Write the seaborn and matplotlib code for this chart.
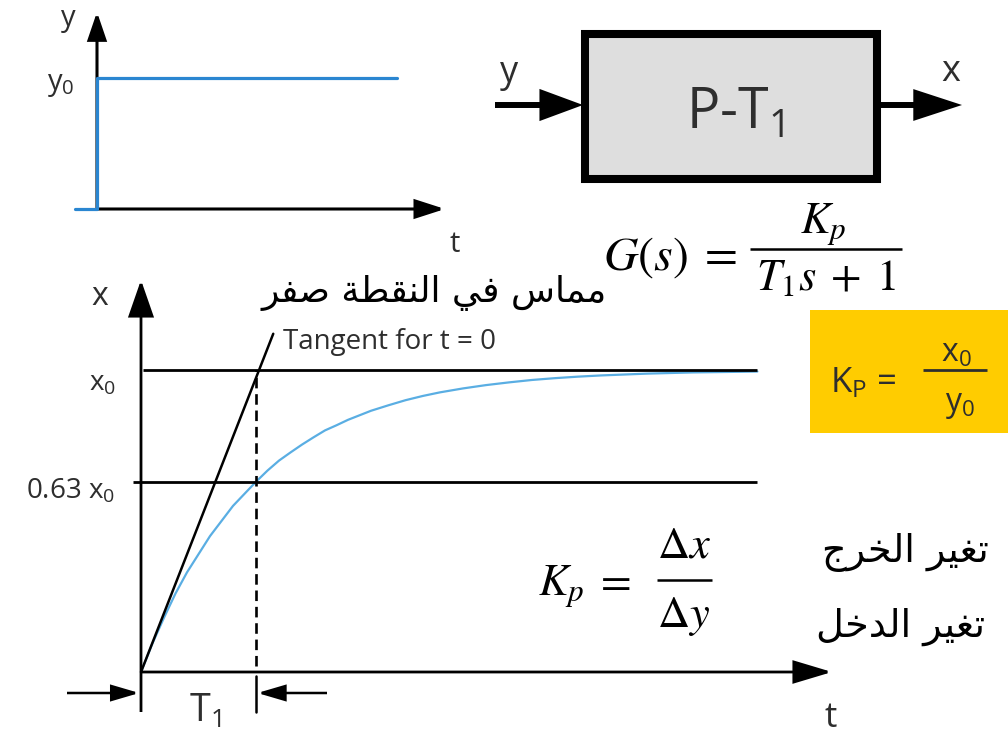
import matplotlib
matplotlib.use("Agg")
import matplotlib.pyplot as plt
import seaborn as sns
from matplotlib.patches import Rectangle

# ---------------- data ----------------
# input step y(t): time in arbitrary units, amplitude in units of y0
step_t = [-0.22, 0.0, 0.0, 3.0]
step_y = [0.0, 0.0, 1.0, 1.0]

# first-order (P-T1) step response: time in units of T1, output in units of x0
resp_t = [0.0, 0.1, 0.2, 0.3, 0.4, 0.5, 0.6, 0.7, 0.8, 0.9, 1.0, 1.1, 1.2, 1.3,
          1.4, 1.5, 1.6, 1.7, 1.8, 1.9, 2.0, 2.15, 2.3, 2.45, 2.6, 2.8, 3.0,
          3.2, 3.4, 3.6, 3.8, 4.0, 4.2, 4.4, 4.6, 4.8, 5.0, 5.2, 5.36]
resp_x = [0.0, 0.095, 0.18, 0.26, 0.33, 0.39, 0.45, 0.50, 0.55, 0.59, 0.63, 0.667,
          0.70, 0.727, 0.753, 0.777, 0.80, 0.817, 0.835, 0.85, 0.865, 0.883, 0.90,
          0.914, 0.926, 0.939, 0.95, 0.959, 0.967, 0.973, 0.978, 0.982, 0.985,
          0.988, 0.99, 0.992, 0.993, 0.994, 0.995]

# tangent at t = 0
tangent_t = [0.0, 1.15]
tangent_x = [0.0, 1.12]

# horizontal reference levels and their labels
ref_levels = [1.0, 0.63]
ref_labels = ["x$_0$", "0.63 x$_0$"]
ref_start = [0.02, -0.07]
ref_end = 5.36
T1 = 1.0

# Arabic captions (shaped presentation forms, visual order)
cap_tangent = "\uFEAE\uFED4\uFEBB \uFE94\uFEC4\uFED8\uFEE8\uFEDF\uFE8D \uFEF2\uFED3 \uFEB1\uFE8E\uFEE4\uFEE3"
cap_output = "\uFE9D\uFEAE\uFEA8\uFEDF\uFE8D \uFEAE\uFEF4\uFED0\uFE97"
cap_input = "\uFEDE\uFEA7\uFEAA\uFEDF\uFE8D \uFEAE\uFEF4\uFED0\uFE97"

# ---------------- style ----------------
sns.set_theme(style="white")
plt.rcParams["font.family"] = ["Open Sans", "DejaVu Sans"]
plt.rcParams["mathtext.fontset"] = "custom"
plt.rcParams["mathtext.rm"] = "Open Sans"
plt.rcParams["mathtext.it"] = "Open Sans:italic"
plt.rcParams["mathtext.bf"] = "Open Sans:bold"

W, H = 1008, 735
fig = plt.figure(figsize=(W / 100, H / 100), dpi=100)
fig.patch.set_facecolor("white")

TXT = "#2e2e2e"
BLUE_STEP = "#2a86d1"
BLUE_RESP = "#5aaee3"


def full_axes(xlim, ylim):
    ax = fig.add_axes([0, 0, 1, 1])
    ax.set_xlim(*xlim)
    ax.set_ylim(*ylim)
    ax.set_axis_off()
    ax.patch.set_alpha(0)
    return ax


def arrow(ax, start, tip, lw, hl, hw, color="black", z=5):
    ax.annotate("", xy=tip, xytext=start, xycoords="data", textcoords="data",
                arrowprops=dict(arrowstyle=f"-|>,head_length={hl},head_width={hw}",
                                lw=lw, color=color, shrinkA=0, shrinkB=0,
                                mutation_scale=1, joinstyle="miter", capstyle="butt"),
                zorder=z)


# step chart axes: origin at px (97, 209), 100 px per time unit, 131 px per y0
ax_s = full_axes(((0 - 97) / 100, (W - 97) / 100), (-(H - 209) / 131, 209 / 131))
# response chart axes: origin at px (141, 672), 115 px per T1, 302 px per x0
ax_r = full_axes(((0 - 141) / 115, (W - 141) / 115), (-(H - 672) / 302, 672 / 302))
# annotation layer in pixel units
ax_d = full_axes((0, W), (H, 0))

# ---------------- input step ----------------
arrow(ax_s, (0, 0), (0, (209 - 12) / 131), lw=2.2, hl=17, hw=5.8, z=3)
arrow(ax_s, (0, 0), ((445 - 97) / 100, 0), lw=2.2, hl=18, hw=5.8, z=3)
sns.lineplot(x=step_t, y=step_y, sort=False, estimator=None, ax=ax_s,
             color=BLUE_STEP, lw=2.3, zorder=4)
ax_s.set_axis_off()

# ---------------- response ----------------
# reference levels
for lvl, x0 in zip(ref_levels, ref_start):
    ax_r.plot([x0, ref_end], [lvl, lvl], color="black", lw=2.0, zorder=4,
              solid_capstyle="butt")
sns.lineplot(x=resp_t, y=resp_x, sort=False, estimator=None, ax=ax_r,
             color=BLUE_RESP, lw=1.6, zorder=3)
sns.lineplot(x=tangent_t, y=tangent_x, sort=False, estimator=None, ax=ax_r,
             color="black", lw=1.8, zorder=4)
ax_r.plot([T1, T1], [0.02, ref_levels[0]], color="black", lw=1.9,
          dashes=(4, 2.2), zorder=4)
ax_r.set_axis_off()

# axes with arrows
y_low = (672 - 712) / 302
arrow(ax_r, (0, y_low), (0, (672 - 280) / 302), lw=2.0, hl=23, hw=8)
arrow(ax_r, (0, 0), ((832 - 141) / 115, 0), lw=2.0, hl=24, hw=7.2)
# T1 dimension marks
ax_r.plot([T1, T1], [-0.013, y_low], color="black", lw=1.8, zorder=4)
y_dim = (672 - 693) / 302
arrow(ax_r, ((67 - 141) / 115, y_dim), (-0.015, y_dim), lw=1.8, hl=17, hw=5)
arrow(ax_r, ((327 - 141) / 115, y_dim), (T1 + 0.012, y_dim), lw=1.8, hl=17, hw=5)

# ---------------- labels ----------------
ax_d.text(68, 26, "y", fontsize=21, color=TXT, ha="center", va="baseline")
ax_d.text(47, 90, "y$_0$", fontsize=21, color=TXT, ha="left", va="baseline")
ax_d.text(455, 252, "t", fontsize=21, color=TXT, ha="center", va="baseline")

ax_d.text(100, 305, "x", fontsize=23, color=TXT, ha="center", va="baseline")
ax_d.text(116, 390, ref_labels[0], fontsize=20, color=TXT, ha="right", va="baseline")
ax_d.text(115, 498, ref_labels[1], fontsize=20, color=TXT, ha="right", va="baseline")
ax_d.text(283, 349, "Tangent for t = 0", fontsize=20, color=TXT, ha="left", va="baseline")
ax_d.text(189, 722, "T$_1$", fontsize=27, color=TXT, ha="left", va="baseline")
ax_d.text(831, 727, "t", fontsize=25, color=TXT, ha="center", va="baseline")

# ---------------- block diagram ----------------
ax_d.add_patch(Rectangle((585, 34), 292, 145, facecolor="#dedede",
                         edgecolor="black", lw=5.8, zorder=2))
ax_d.text(686, 128, "P-T$_1$", fontsize=40, color=TXT, ha="left", va="baseline", zorder=3)
arrow(ax_d, (495, 105), (583, 105), lw=4.3, hl=23, hw=8.5)
arrow(ax_d, (881, 105), (962, 105), lw=4.3, hl=26, hw=8.5)
ax_d.text(509, 82, "y", fontsize=26, color=TXT, ha="center", va="baseline")
ax_d.text(951, 81, "x", fontsize=26, color=TXT, ha="center", va="baseline")

# ---------------- transfer function ----------------
MF = dict(math_fontfamily="stix", color="black", va="baseline")
ax_d.text(737, 270, r"$G(s)\;=\;$", fontsize=34.5, ha="right", **MF)
ax_d.text(823, 233, r"$K_p$", fontsize=32, ha="center", **MF)
ax_d.plot([750, 902], [249, 249], color="black", lw=1.8, solid_capstyle="butt")
ax_d.text(826, 290, r"$T_1s\;+\;1$", fontsize=32, ha="center", **MF)

ax_d.text(538, 595, r"$K_p\;=$", fontsize=32, ha="left", **MF)
ax_d.plot([657, 712], [580, 580], color="black", lw=1.8, solid_capstyle="butt")
ax_d.text(684, 558, r"$\Delta x$", fontsize=32, ha="center", **MF)
ax_d.text(684, 627, r"$\Delta y$", fontsize=32, ha="center", **MF)

# ---------------- gain box ----------------
ax_d.add_patch(Rectangle((810, 310), 198, 123, facecolor="#ffcc00", edgecolor="none", zorder=1))
ax_d.text(830, 392, "K$_\\mathrm{P}$ =", fontsize=25, color=TXT, ha="left", va="baseline", zorder=3)
ax_d.plot([923, 987], [370, 370], color=TXT, lw=2.0, solid_capstyle="butt", zorder=3)
ax_d.text(956, 362, "x$_0$", fontsize=23, color=TXT, ha="center", va="baseline", zorder=3)
ax_d.text(960, 411, "y$_0$", fontsize=23, color=TXT, ha="center", va="baseline", zorder=3)

# ---------------- Arabic captions ----------------
AR = dict(family="DejaVu Sans", color="black", ha="center", va="center")
ax_d.text(434, 293, cap_tangent, fontsize=26, **AR)
ax_d.text(905, 553, cap_output, fontsize=27.5, **AR)
ax_d.text(901, 627, cap_input, fontsize=27.5, **AR)

fig.savefig("out.png", dpi=100)
